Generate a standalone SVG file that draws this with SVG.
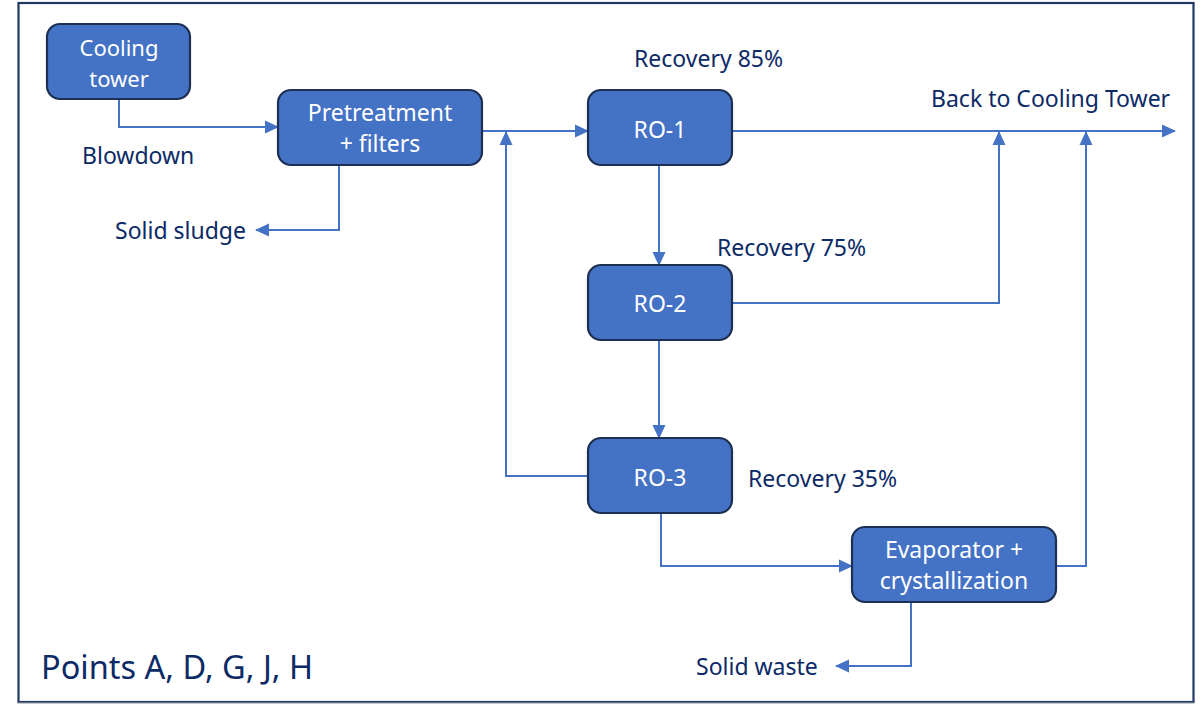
<svg xmlns="http://www.w3.org/2000/svg" width="1203" height="704" viewBox="0 0 1203 704">
<defs>
<marker id="ah" markerUnits="userSpaceOnUse" markerWidth="14" markerHeight="14" viewBox="0 0 14 14" refX="13" refY="7" orient="auto">
<path d="M0,0.5 L14,7 L0,13.5 Z" fill="#4472c4"/>
</marker>
<style>
.node rect{fill:#4472c4;stroke:#1d2f52;stroke-width:2.2}
.nt{font-family:"Noto Sans","Open Sans",sans-serif;font-size:23px;fill:#ffffff;text-anchor:middle}
.lb{font-family:"Noto Sans","Open Sans",sans-serif;font-size:23px;fill:#0c2a66}
.c{fill:none;stroke:#4472c4;stroke-width:2;marker-end:url(#ah)}
</style>
</defs>
<rect x="0" y="0" width="1203" height="704" fill="#ffffff"/>
<rect x="18.5" y="3" width="1175" height="699" fill="none" stroke="#1f3864" stroke-width="2.2"/>
<line x1="18" y1="703" x2="1194" y2="703" stroke="#a6a6a6" stroke-width="1"/>

<g id="connectors">
<path class="c" d="M119,99 V127 H278"/>
<path class="c" d="M482,131 H588"/>
<path class="c" d="M339,165 V230 H256"/>
<path class="c" d="M732,131 H1175"/>
<path class="c" d="M659,165 V265"/>
<path class="c" d="M732,303 H999 V132"/>
<path class="c" d="M659,340 V438"/>
<path class="c" d="M588,476 H506 V132"/>
<path class="c" d="M661,513 V566 H852"/>
<path class="c" d="M1056,566 H1086 V132"/>
<path class="c" d="M911,602 V666 H836"/>
</g>

<g id="cooling-tower" class="node">
<rect x="47" y="24" width="143" height="75" rx="13"/>
<text class="nt" x="119" y="56" style="font-size:22px">Cooling</text>
<text class="nt" x="119" y="87" style="font-size:22px">tower</text>
</g>
<g id="pretreatment" class="node">
<rect x="278" y="90" width="204" height="75" rx="13"/>
<text class="nt" x="380" y="121">Pretreatment</text>
<text class="nt" x="380" y="152">+ filters</text>
</g>
<g id="ro-1" class="node">
<rect x="588" y="90" width="144" height="75" rx="13"/>
<text class="nt" x="660" y="138">RO-1</text>
</g>
<g id="ro-2" class="node">
<rect x="588" y="265" width="144" height="75" rx="13"/>
<text class="nt" x="660" y="312">RO-2</text>
</g>
<g id="ro-3" class="node">
<rect x="588" y="438" width="144" height="75" rx="13"/>
<text class="nt" x="660" y="486">RO-3</text>
</g>
<g id="evaporator" class="node">
<rect x="852" y="527" width="204" height="75" rx="13"/>
<text class="nt" x="954" y="558">Evaporator +</text>
<text class="nt" x="954" y="589">crystallization</text>
</g>

<g id="labels">
<text class="lb" x="82" y="164">Blowdown</text>
<text class="lb" x="115" y="239">Solid sludge</text>
<text class="lb" x="634" y="67">Recovery 85%</text>
<text class="lb" x="931" y="107">Back to Cooling Tower</text>
<text class="lb" x="717" y="256">Recovery 75%</text>
<text class="lb" x="748" y="487">Recovery 35%</text>
<text class="lb" x="696" y="675">Solid waste</text>
<text class="lb" x="41" y="679" style="font-size:32.5px">Points A, D, G, J, H</text>
</g>
</svg>
